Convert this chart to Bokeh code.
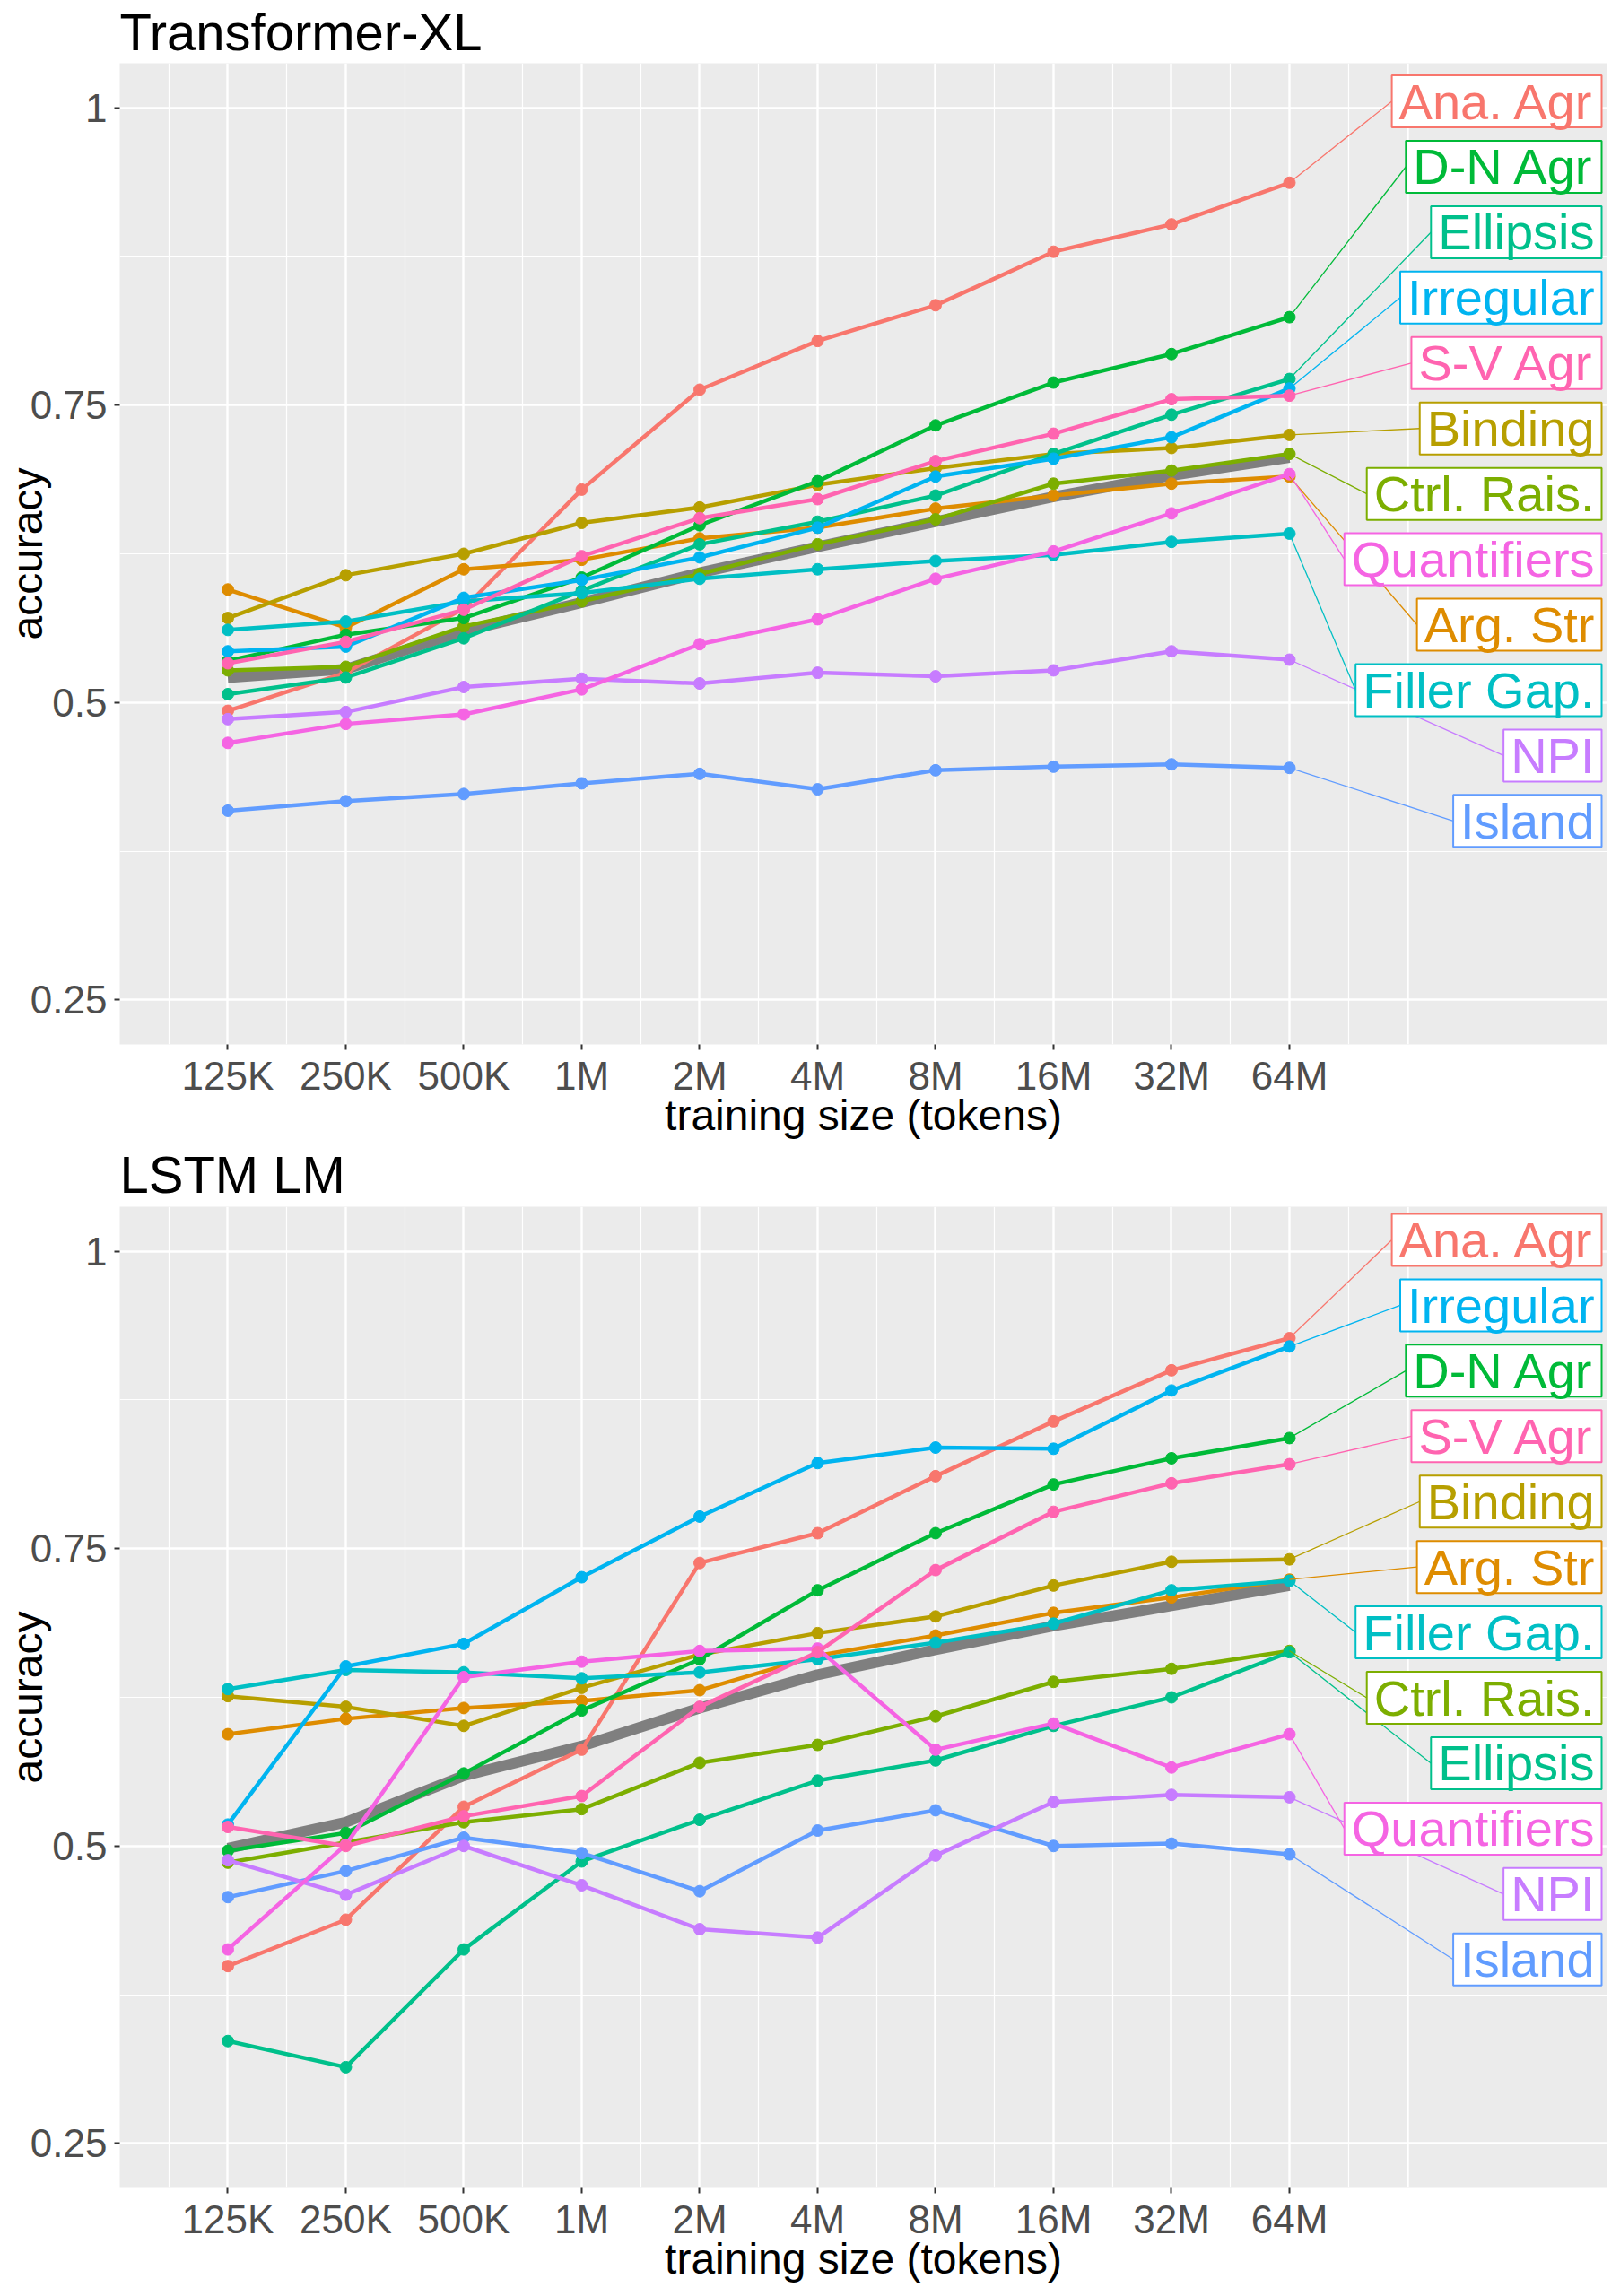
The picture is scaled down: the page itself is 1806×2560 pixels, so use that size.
from bokeh.plotting import figure
from bokeh.layouts import column
from bokeh.models import Range1d, FixedTicker, ColumnDataSource
from bokeh.embed import file_html
from bokeh.resources import INLINE
from bokeh.core.properties import value

# ---------------- data ----------------
sizes = ["125K", "250K", "500K", "1M", "2M", "4M", "8M", "16M", "32M", "64M"]
xpos = list(range(1, len(sizes) + 1))

tasks = ["Ana. Agr", "Arg. Str", "Binding", "Ctrl. Rais.", "D-N Agr", "Ellipsis",
         "Filler Gap.", "Irregular", "Island", "NPI", "Quantifiers", "S-V Agr"]
colors = ["#F8766D", "#DE8C00", "#B79F00", "#7CAE00", "#00BA38", "#00C08B",
          "#00BFC4", "#00B4F0", "#619CFF", "#C77CFF", "#F564E3", "#FF64B0"]

# Transformer-XL
txl_ana = [0.493, 0.525, 0.579, 0.679, 0.763, 0.804, 0.834, 0.879, 0.902, 0.937]
txl_arg = [0.595, 0.563, 0.612, 0.620, 0.638, 0.647, 0.663, 0.674, 0.684, 0.690]
txl_binding = [0.571, 0.607, 0.625, 0.651, 0.664, 0.683, 0.697, 0.709, 0.714, 0.725]
txl_ctrl = [0.527, 0.530, 0.564, 0.585, 0.608, 0.633, 0.654, 0.684, 0.695, 0.709]
txl_dn = [0.535, 0.557, 0.571, 0.605, 0.649, 0.686, 0.733, 0.769, 0.793, 0.824]
txl_ellipsis = [0.507, 0.521, 0.554, 0.594, 0.633, 0.652, 0.674, 0.709, 0.742, 0.772]
txl_filler = [0.561, 0.568, 0.585, 0.592, 0.604, 0.612, 0.619, 0.624, 0.635, 0.642]
txl_irregular = [0.543, 0.547, 0.588, 0.603, 0.622, 0.647, 0.690, 0.705, 0.723, 0.764]
txl_island = [0.409, 0.417, 0.423, 0.432, 0.440, 0.427, 0.443, 0.446, 0.448, 0.445]
txl_npi = [0.486, 0.492, 0.513, 0.520, 0.516, 0.525, 0.522, 0.527, 0.543, 0.536]
txl_quant = [0.466, 0.482, 0.490, 0.511, 0.549, 0.570, 0.604, 0.627, 0.659, 0.692]
txl_sv = [0.533, 0.551, 0.578, 0.623, 0.655, 0.671, 0.703, 0.726, 0.755, 0.758]
txl_avg = [0.521, 0.528, 0.560, 0.584, 0.609, 0.631, 0.652, 0.673, 0.691, 0.706]

# LSTM LM
lstm_ana = [0.399, 0.438, 0.533, 0.581, 0.738, 0.763, 0.811, 0.857, 0.900, 0.927]
lstm_arg = [0.594, 0.607, 0.616, 0.622, 0.631, 0.660, 0.677, 0.696, 0.709, 0.724]
lstm_binding = [0.626, 0.617, 0.601, 0.633, 0.661, 0.679, 0.693, 0.719, 0.739, 0.741]
lstm_ctrl = [0.486, 0.503, 0.520, 0.531, 0.570, 0.585, 0.609, 0.638, 0.649, 0.664]
lstm_dn = [0.496, 0.511, 0.561, 0.614, 0.657, 0.715, 0.763, 0.804, 0.826, 0.843]
lstm_ellipsis = [0.336, 0.314, 0.413, 0.487, 0.522, 0.555, 0.572, 0.601, 0.625, 0.663]
lstm_filler = [0.632, 0.648, 0.646, 0.641, 0.646, 0.657, 0.671, 0.687, 0.715, 0.723]
lstm_irregular = [0.518, 0.651, 0.670, 0.726, 0.777, 0.822, 0.835, 0.834, 0.883, 0.920]
lstm_island = [0.457, 0.479, 0.507, 0.494, 0.462, 0.513, 0.530, 0.500, 0.502, 0.493]
lstm_npi = [0.488, 0.459, 0.500, 0.467, 0.430, 0.423, 0.492, 0.537, 0.543, 0.541]
lstm_quant = [0.413, 0.501, 0.642, 0.655, 0.664, 0.666, 0.581, 0.603, 0.566, 0.594]
lstm_sv = [0.516, 0.500, 0.525, 0.542, 0.617, 0.663, 0.732, 0.781, 0.805, 0.821]
lstm_avg = [0.498, 0.520, 0.559, 0.584, 0.616, 0.644, 0.665, 0.685, 0.702, 0.719]

y_ticks = [0.25, 0.5, 0.75, 1.0]
y_tick_labels = ["0.25", "0.5", "0.75", "1"]

# ---------------- layout constants ----------------
FONT = "Liberation Sans"
LEFT_BORDER = 131
RIGHT_BORDER = 1
FRAME_W, FRAME_H = 1658, 1094
XMIN, XMAX = 0.0837, 12.692
YMIN, YMAX = 0.2125, 1.0375
TITLE_FS = 58
LABEL_FS = 56
LABEL_PAD = 8
BOX_H = 58
BOX_RIGHT_GAP = 6
LABEL_STEP = 0.055

# Arial / Liberation Sans advance widths (per 1000 em)
ARIAL_W = {"A": 667, "n": 556, "a": 556, ".": 278, " ": 278, "g": 556, "r": 333,
           "S": 667, "t": 278, "B": 667, "i": 222, "d": 556, "C": 722, "l": 222,
           "R": 722, "s": 500, "D": 722, "-": 333, "N": 722, "E": 667, "p": 556,
           "F": 611, "e": 556, "G": 778, "I": 278, "u": 556, "P": 667, "Q": 778,
           "f": 278, "V": 667}


def text_px(s, fs):
    return sum(ARIAL_W.get(c, 556) for c in s) / 1000.0 * fs


def title_strip(text, h, baseline_gap):
    s = figure(frame_width=FRAME_W, frame_height=h,
               x_range=Range1d(0, 1), y_range=Range1d(0, h),
               min_border_left=LEFT_BORDER, min_border_right=RIGHT_BORDER,
               min_border_top=0, min_border_bottom=0,
               toolbar_location=None, output_backend="svg",
               x_axis_location=None, y_axis_location=None, title=None,
               outline_line_color=None, background_fill_color="white",
               border_fill_color="white")
    s.xgrid.visible = False
    s.ygrid.visible = False
    # vertically centred on the capital height, baseline `baseline_gap` above the panel
    s.text(x=[0], y=[baseline_gap + 0.358 * TITLE_FS], text=[text], text_color="black",
           text_font=value(FONT), text_font_size=f"{TITLE_FS}px",
           text_align="left", text_baseline="middle")
    return s


def make_panel(series, avg, label_top, bottom_border):
    p = figure(frame_width=FRAME_W, frame_height=FRAME_H,
               x_range=Range1d(XMIN, XMAX), y_range=Range1d(YMIN, YMAX),
               output_backend="svg", toolbar_location=None, title=None,
               min_border_left=LEFT_BORDER, min_border_right=RIGHT_BORDER,
               min_border_top=0, min_border_bottom=bottom_border,
               background_fill_color="#EBEBEB", border_fill_color="white",
               outline_line_color=None)

    # grid
    p.xgrid.ticker = FixedTicker(ticks=list(range(1, 12)),
                                 minor_ticks=[i + 0.5 for i in range(0, 11)])
    p.ygrid.ticker = FixedTicker(ticks=y_ticks, minor_ticks=[0.375, 0.625, 0.875])
    for g in (p.xgrid, p.ygrid):
        g.grid_line_color = "white"
        g.grid_line_width = 2.4
        g.minor_grid_line_color = "white"
        g.minor_grid_line_width = 1.2

    # axes
    p.xaxis.ticker = FixedTicker(ticks=xpos)
    p.xaxis.major_label_overrides = {x: s for x, s in zip(xpos, sizes)}
    p.yaxis.ticker = FixedTicker(ticks=y_ticks)
    p.yaxis.major_label_overrides = {t: s for t, s in zip(y_ticks, y_tick_labels)}
    p.xaxis.axis_label = "training size (tokens)"
    p.yaxis.axis_label = "accuracy"
    for ax in (p.xaxis, p.yaxis):
        ax.axis_line_color = None
        ax.minor_tick_line_color = None
        ax.major_tick_line_color = "#333333"
        ax.major_tick_line_width = 2
        ax.major_tick_out = 6
        ax.major_tick_in = 0
        ax.major_label_text_font = FONT
        ax.major_label_text_font_size = "44px"
        ax.major_label_text_color = "#4D4D4D"
        ax.axis_label_text_font = FONT
        ax.axis_label_text_font_size = "48px"
        ax.axis_label_text_font_style = "normal"
        ax.axis_label_text_color = "black"
    p.xaxis.major_label_standoff = 4
    p.xaxis.axis_label_standoff = -10
    p.yaxis.major_label_standoff = 8
    p.yaxis.axis_label_standoff = -26

    # average line
    p.line(xpos, avg, line_color="#7F7F7F", line_width=12)

    # series
    for vals, col in zip(series, colors):
        p.line(xpos, vals, line_color=col, line_width=4.5)
        p.scatter(xpos, vals, size=13, fill_color=col, line_color=col)

    # repelled labels, stacked by final value
    dpp = (XMAX - XMIN) / FRAME_W
    finals = [s[-1] for s in series]
    order = sorted(range(len(tasks)), key=lambda i: -finals[i])
    rank = {i: r for r, i in enumerate(order)}
    box_right = XMAX - BOX_RIGHT_GAP * dpp
    lab = dict(x0=[], y0=[], x1=[], ly=[], cx=[], w=[], tx=[], text=[], color=[])
    for i, name in enumerate(tasks):
        w = text_px(name, LABEL_FS) + 2 * LABEL_PAD
        left = box_right - w * dpp
        ly = label_top - rank[i] * LABEL_STEP
        lab["x0"].append(xpos[-1])
        lab["y0"].append(finals[i])
        lab["x1"].append(left)
        lab["ly"].append(ly)
        lab["cx"].append(box_right - w / 2 * dpp)
        lab["w"].append(w)
        lab["tx"].append(left + LABEL_PAD * dpp)
        lab["text"].append(name)
        lab["color"].append(colors[i])
    src = ColumnDataSource(lab)
    p.segment(x0="x0", y0="y0", x1="x1", y1="ly", line_color="color",
              line_width=1.3, source=src)
    p.rect(x="cx", y="ly", width="w", height=BOX_H, width_units="screen",
           height_units="screen", fill_color="white", line_color="color",
           line_width=2, source=src)
    p.text(x="tx", y="ly", text="text", text_color="color",
           text_font=value(FONT), text_font_size=f"{LABEL_FS}px",
           text_align="left", text_baseline="middle", source=src)
    return p


txl_series = [txl_ana, txl_arg, txl_binding, txl_ctrl, txl_dn, txl_ellipsis,
              txl_filler, txl_irregular, txl_island, txl_npi, txl_quant, txl_sv]
lstm_series = [lstm_ana, lstm_arg, lstm_binding, lstm_ctrl, lstm_dn, lstm_ellipsis,
               lstm_filler, lstm_irregular, lstm_island, lstm_npi, lstm_quant, lstm_sv]

t1 = title_strip("Transformer-XL", 70, 14)
p1 = make_panel(txl_series, txl_avg, 1.0054, 111)
t2 = title_strip("LSTM LM", 70, 15)
p2 = make_panel(lstm_series, lstm_avg, 1.0096, 109)

layout = column(t1, p1, t2, p2, spacing=0)
open("out.html", "w").write(file_html(layout, INLINE))
